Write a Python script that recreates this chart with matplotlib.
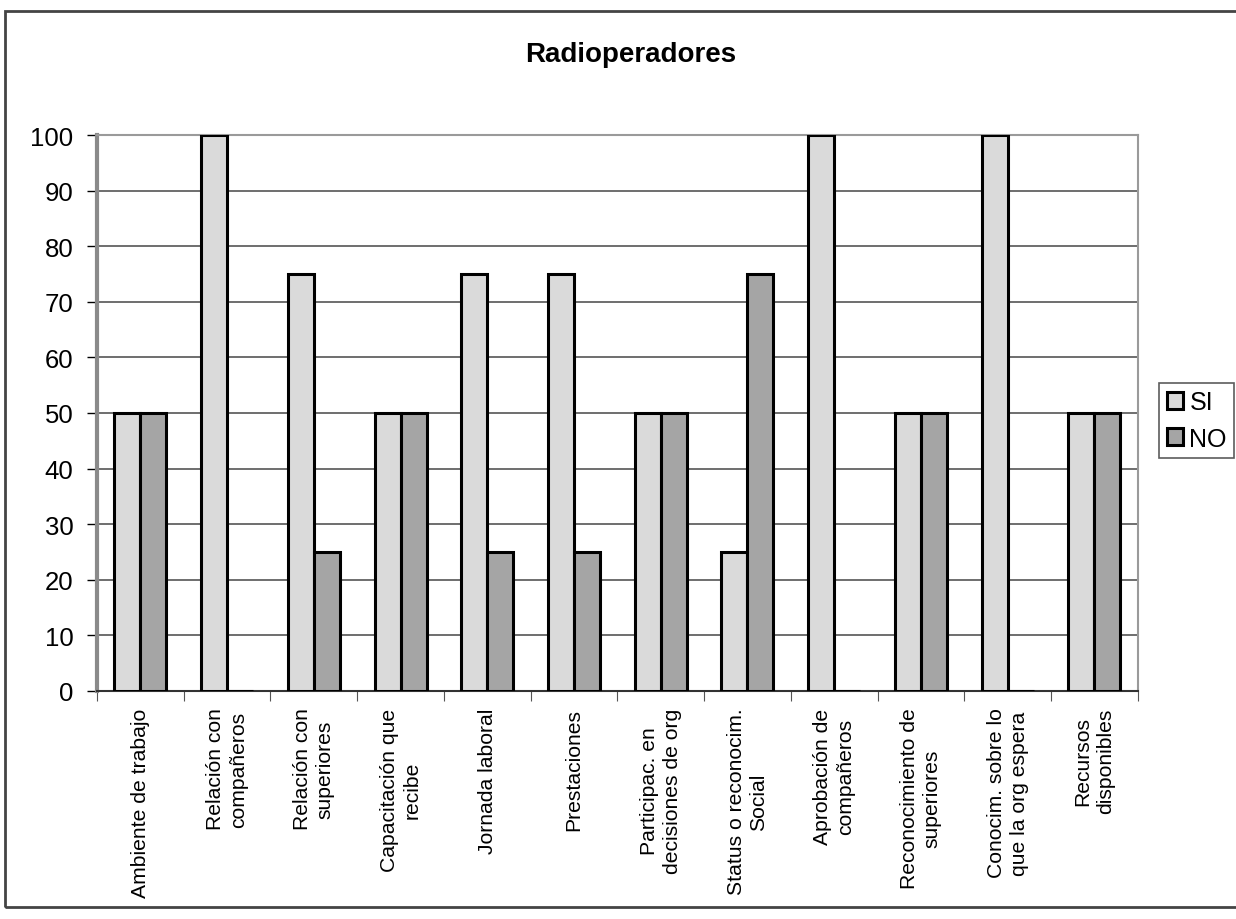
import numpy as np
import matplotlib.pyplot as plt
from matplotlib.patches import Rectangle

categorias = [
    "Ambiente de trabajo",
    "Relación con\ncompañeros",
    "Relación con\nsuperiores",
    "Capacitación que\nrecibe",
    "Jornada laboral",
    "Prestaciones",
    "Participac. en\ndecisiones de org",
    "Status o reconocim.\nSocial",
    "Aprobación de\ncompañeros",
    "Reconocimiento de\nsuperiores",
    "Conocim. sobre lo\nque la org espera",
    "Recursos\ndisponibles",
]
si = [50, 100, 75, 50, 75, 75, 50, 25, 100, 50, 100, 50]
no = [50, 0, 25, 50, 25, 25, 50, 75, 0, 50, 0, 50]

plt.rcParams['font.family'] = ['Liberation Sans', 'DejaVu Sans']

fig = plt.figure(figsize=(12.36, 9.2), dpi=100)
ax = fig.add_axes([0.0785, 0.248, 0.842, 0.604])

x = np.arange(len(categorias))
w = 0.3
ax.bar(x - w / 2, si, w, color='#dadada', edgecolor='black', linewidth=2.2, label='SI', zorder=3)
ax.bar(x + w / 2, no, w, color='#a5a5a5', edgecolor='black', linewidth=2.2, label='NO', zorder=3)

ax.set_xlim(-0.5, len(categorias) - 0.5)
ax.set_ylim(0, 100)
ax.set_yticks(range(0, 101, 10))
ax.tick_params(axis='y', labelsize=18.5, length=7, width=1, direction='out', pad=10)
ax.yaxis.grid(True, color='#555555', linewidth=1.2, zorder=0)

# ticks between categories, labels at the centres
ax.set_xticks(np.arange(-0.5, len(categorias), 1))
ax.set_xticklabels([])
ax.set_xticks(x, minor=True)
ax.set_xticklabels(categorias, minor=True, rotation=90, fontsize=15.2, ha='center',
                   va='top', linespacing=1.25)
ax.tick_params(axis='x', which='major', length=7, color='#555555')
ax.tick_params(axis='x', which='minor', length=0, pad=12)

for s in ['top', 'right']:
    ax.spines[s].set_color('#9a9a9a')
    ax.spines[s].set_linewidth(1.5)
ax.spines['left'].set_color('#8a8a8a')
ax.spines['left'].set_linewidth(3)
ax.spines['bottom'].set_color('#333333')
ax.spines['bottom'].set_linewidth(1.5)

fig.text(0.510, 0.94, "Radioperadores", ha='center', va='center', fontsize=20, fontweight='bold')

leg = fig.legend(loc='center left', bbox_to_anchor=(0.934, 0.542), fontsize=18,
                 frameon=True, fancybox=False, edgecolor='#333333', handlelength=0.65,
                 handleheight=0.65, handletextpad=0.25, borderpad=0.3, labelspacing=0.5,
                 borderaxespad=0.2)
leg.get_frame().set_linewidth(1.2)

# outer chart border
fig.patches.append(Rectangle((0.004, 0.013), 1.1, 0.974, transform=fig.transFigure,
                             fill=False, edgecolor='#444444', linewidth=2))

fig.savefig('out.png', dpi=100)
